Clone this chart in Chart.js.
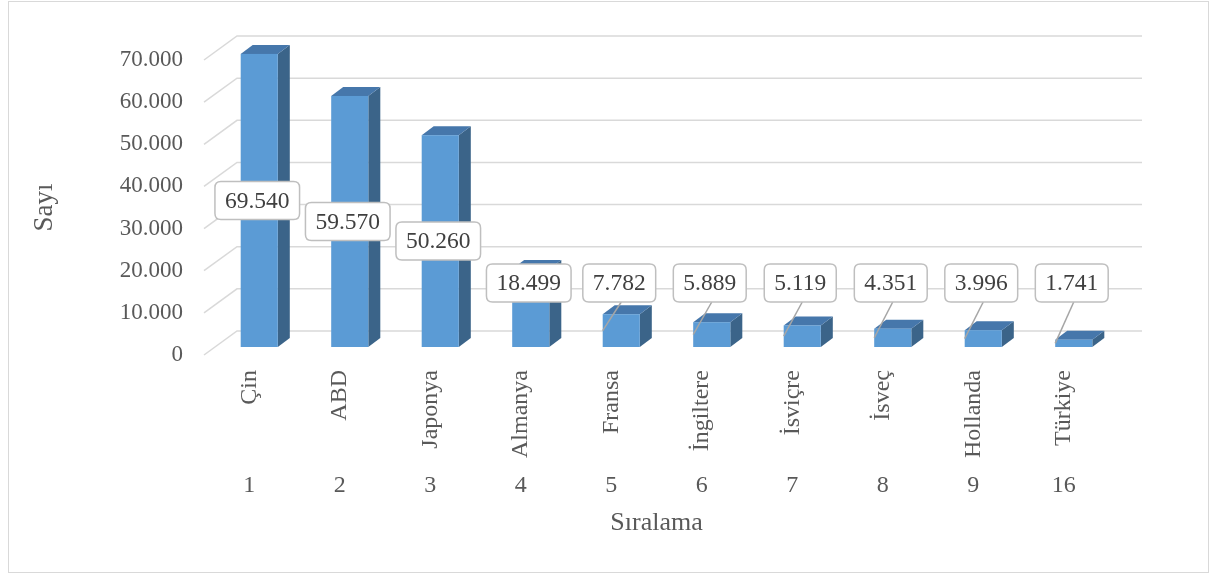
<!DOCTYPE html>
<html>
<head>
<meta charset="utf-8">
<script src="https://cdn.jsdelivr.net/npm/chart.js@4"></script>
<style>
  html, body { margin: 0; padding: 0; background: #fff; }
  #wrap { width: 1210px; height: 576px; }
</style>
</head>
<body>
<div id="wrap"><canvas id="chart"></canvas></div>
<script>
var countries = ['Çin', 'ABD', 'Japonya', 'Almanya', 'Fransa', 'İngiltere', 'İsviçre', 'İsveç', 'Hollanda', 'Türkiye'];
var ranks = ['1', '2', '3', '4', '5', '6', '7', '8', '9', '16'];
var counts = [69540, 59570, 50260, 18499, 7782, 5889, 5119, 4351, 3996, 1741];
var yMax = 70000;
var yStep = 10000;

var serif = '"Liberation Serif", "Times New Roman", serif';
var textGrey = '#595959';

// 3d look: bars sit a bit behind the front plane, the back wall further
var barShift = { dx: 10, dy: -8 };
var barDepth = { dx: 12, dy: -9 };
var wallDepth = { dx: 33, dy: -24 };
var labelRowY = 283;

function fmt(v) {
    return String(v).replace(/\B(?=(\d{3})+(?!\d))/g, '.');
}

function roundRect(ctx, x, y, w, h, r) {
    ctx.beginPath();
    ctx.moveTo(x + r, y);
    ctx.lineTo(x + w - r, y);
    ctx.quadraticCurveTo(x + w, y, x + w, y + r);
    ctx.lineTo(x + w, y + h - r);
    ctx.quadraticCurveTo(x + w, y + h, x + w - r, y + h);
    ctx.lineTo(x + r, y + h);
    ctx.quadraticCurveTo(x, y + h, x, y + h - r);
    ctx.lineTo(x, y + r);
    ctx.quadraticCurveTo(x, y, x + r, y);
    ctx.closePath();
}

var excel3d = {
    id: 'excel3d',
    beforeDraw: function (chart) {
        var c = chart.ctx;
        c.save();
        c.fillStyle = '#fff';
        c.fillRect(0, 0, chart.width, chart.height);
        c.strokeStyle = '#d9d9d9';
        c.lineWidth = 1;
        c.strokeRect(8.5, 1.5, 1200, 571);
        c.restore();
    },
    beforeDatasetsDraw: function (chart) {
        var c = chart.ctx, area = chart.chartArea, ys = chart.scales.y;
        c.save();
        c.strokeStyle = '#d9d9d9';
        c.lineWidth = 1.5;
        ys.ticks.forEach(function (t) {
            var y = ys.getPixelForValue(t.value);
            c.beginPath();
            c.moveTo(area.left, y);
            c.lineTo(area.left + wallDepth.dx, y + wallDepth.dy);
            c.lineTo(area.right + wallDepth.dx, y + wallDepth.dy);
            c.stroke();
        });
        c.restore();
    },
    afterDatasetsDraw: function (chart) {
        var c = chart.ctx;
        var meta = chart.getDatasetMeta(0);
        var ds = chart.data.datasets[0];
        c.save();
        // bars
        meta.data.forEach(function (bar) {
            var p = bar.getProps(['x', 'y', 'base', 'width'], true);
            var L = p.x - p.width / 2 + barShift.dx;
            var R = p.x + p.width / 2 + barShift.dx;
            var T = p.y + barShift.dy;
            var B = p.base + barShift.dy;
            // side
            c.fillStyle = '#3b6489';
            c.beginPath();
            c.moveTo(R, T);
            c.lineTo(R + barDepth.dx, T + barDepth.dy);
            c.lineTo(R + barDepth.dx, B + barDepth.dy);
            c.lineTo(R, B);
            c.closePath();
            c.fill();
            // top
            c.fillStyle = '#4677ab';
            c.beginPath();
            c.moveTo(L, T);
            c.lineTo(L + barDepth.dx, T + barDepth.dy);
            c.lineTo(R + barDepth.dx, T + barDepth.dy);
            c.lineTo(R, T);
            c.closePath();
            c.fill();
            // front
            c.fillStyle = '#5b9bd5';
            c.fillRect(L, T, R - L, B - T);
        });
        // data labels
        c.font = '23.5px ' + serif;
        c.textAlign = 'center';
        c.textBaseline = 'middle';
        meta.data.forEach(function (bar, i) {
            var p = bar.getProps(['x', 'y', 'base', 'width'], true);
            var L = p.x - p.width / 2 + barShift.dx;
            var T = p.y + barShift.dy;
            var B = p.base + barShift.dy;
            var mid = (T + B) / 2;
            var txt = fmt(ds.data[i]);
            var cx = p.x + barShift.dx - 2;
            var cy = Math.min(mid, labelRowY);
            var w = c.measureText(txt).width + 20;
            var h = 38;
            if (cy + h / 2 < T - 2) {
                c.strokeStyle = '#a6a6a6';
                c.lineWidth = 1.5;
                c.beginPath();
                c.moveTo(cx + 2, cy + h / 2);
                c.lineTo(L, mid);
                c.stroke();
            }
            roundRect(c, cx - w / 2, cy - h / 2, w, h, 6);
            c.fillStyle = '#fff';
            c.fill();
            c.strokeStyle = '#bfbfbf';
            c.lineWidth = 1.5;
            c.stroke();
            c.fillStyle = '#404040';
            c.fillText(txt, cx, cy + 1);
        });
        c.restore();
    }
};

var ctx = document.getElementById('chart').getContext('2d');
var chart = new Chart(ctx, {
    type: 'bar',
    data: {
        labels: countries,
        datasets: [{
            label: 'Sayı',
            data: counts,
            backgroundColor: 'rgba(0,0,0,0)',
            borderWidth: 0,
            categoryPercentage: 1,
            barPercentage: 0.41
        }]
    },
    plugins: [excel3d],
    options: {
        responsive: true,
        maintainAspectRatio: false,
        animation: false,
        layout: { padding: { top: 60, right: 101, left: 0, bottom: 0 } },
        plugins: {
            legend: { display: false },
            tooltip: { enabled: false }
        },
        scales: {
            y: {
                min: 0,
                max: yMax,
                grid: { display: false, drawTicks: false },
                border: { display: false },
                ticks: {
                    stepSize: yStep,
                    padding: 21,
                    color: textGrey,
                    font: { family: serif, size: 23 },
                    callback: function (v) { return fmt(v); }
                },
                title: {
                    display: true,
                    text: 'Sayı',
                    color: textGrey,
                    font: { family: serif, size: 27 },
                    padding: { top: 29, bottom: 0 }
                },
                afterFit: function (s) { s.width = 204; }
            },
            x: {
                type: 'category',
                labels: countries,
                grid: { display: false, drawTicks: false },
                border: { display: false },
                ticks: {
                    minRotation: 90,
                    maxRotation: 90,
                    autoSkip: false,
                    padding: 15,
                    color: textGrey,
                    font: { family: serif, size: 24 }
                },
                afterFit: function (s) { s.height = 103; }
            },
            x2: {
                type: 'category',
                position: 'bottom',
                labels: ranks,
                grid: { display: false, drawTicks: false },
                border: { display: false },
                ticks: {
                    maxRotation: 0,
                    autoSkip: false,
                    padding: 13,
                    color: textGrey,
                    font: { family: serif, size: 24 }
                },
                title: {
                    display: true,
                    text: 'Sıralama',
                    color: textGrey,
                    font: { family: serif, size: 26 },
                    padding: { top: 0, bottom: 37 }
                },
                afterFit: function (s) { s.height = 118; }
            }
        }
    }
});
</script>
</body>
</html>
